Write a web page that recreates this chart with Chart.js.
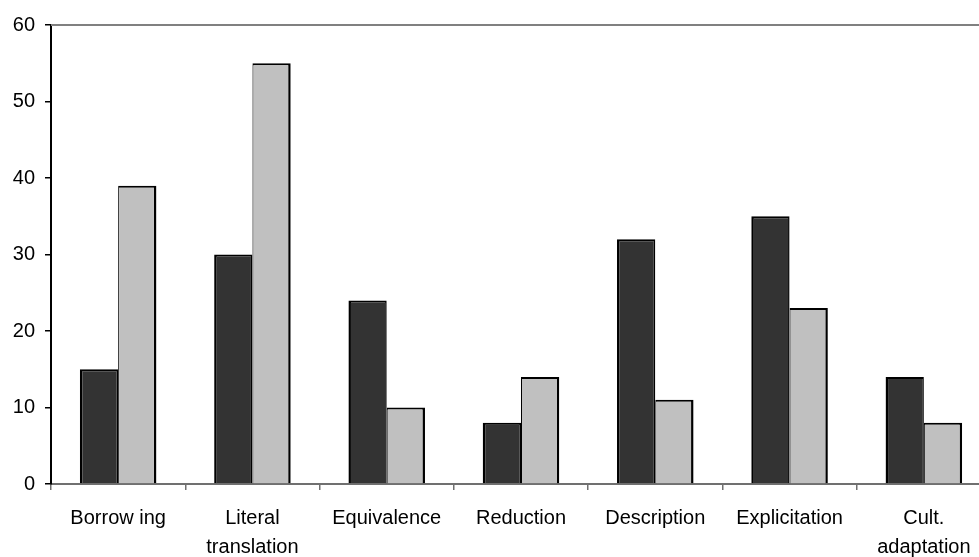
<!DOCTYPE html>
<html>
<head>
<meta charset="utf-8">
<script src="https://cdn.jsdelivr.net/npm/chart.js@4"></script>
<style>
  html, body { margin: 0; padding: 0; background: #fff; overflow: hidden; }
  #wrap { width: 1000px; height: 557px; }
</style>
</head>
<body>
<div id="wrap"><canvas id="chart" width="1000" height="557"></canvas></div>
<script>
const categories = [
  "Borrow ing",
  ["Literal", "translation"],
  "Equivalence",
  "Reduction",
  "Description",
  "Explicitation",
  ["Cult.", "adaptation"]
];
const seriesDark = [15, 30, 24, 8, 32, 35, 14];
const seriesLight = [39, 55, 10, 14, 11, 23, 8];
const yTicks = [0, 10, 20, 30, 40, 50, 60];

// gray line along the top of the plot area
const topLine = {
  id: "topLine",
  afterDraw(chart) {
    const { ctx, chartArea } = chart;
    ctx.save();
    ctx.strokeStyle = "#808080";
    ctx.lineWidth = 2;
    ctx.beginPath();
    ctx.moveTo(chartArea.left, chartArea.top);
    ctx.lineTo(chartArea.right, chartArea.top);
    ctx.stroke();
    ctx.restore();
  }
};

const ctx = document.getElementById("chart").getContext("2d");
new Chart(ctx, {
  type: "bar",
  data: {
    labels: categories,
    datasets: [
      {
        data: seriesDark,
        backgroundColor: "#333333",
        borderColor: "#000000",
        borderWidth: { top: 2, left: 2.5, right: 1.5, bottom: 0 },
        borderSkipped: false
      },
      {
        data: seriesLight,
        backgroundColor: "#c0c0c0",
        borderColor: "#000000",
        borderWidth: { top: 2, left: 1, right: 2.5, bottom: 0 },
        borderSkipped: false
      }
    ]
  },
  options: {
    responsive: false,
    animation: false,
    layout: { padding: { top: 25, right: 9, left: 0, bottom: 0 } },
    plugins: { legend: { display: false }, tooltip: { enabled: false } },
    datasets: { bar: { barPercentage: 1, categoryPercentage: 0.57 } },
    scales: {
      x: {
        grid: { display: true, drawOnChartArea: false, offset: true, color: "#707070", tickLength: 6, lineWidth: 1.5 },
        border: { color: "#707070", width: 2 },
        ticks: {
          color: "#000",
          font: { family: "'Liberation Sans', Arial, sans-serif", size: 20, lineHeight: 1.45 },
          maxRotation: 0,
          autoSkip: false,
          padding: 14
        },
        afterFit(scale) { scale.height = 73; }
      },
      y: {
        min: 0,
        max: 60,
        afterBuildTicks(scale) { scale.ticks = yTicks.map(v => ({ value: v })); },
        grid: { display: true, drawOnChartArea: false, color: "#000", tickLength: 6, lineWidth: 1.5 },
        border: { color: "#000", width: 2 },
        ticks: {
          color: "#000",
          font: { family: "'Liberation Sans', Arial, sans-serif", size: 20 },
          padding: 10
        },
        afterFit(scale) { scale.width = 51; }
      }
    }
  },
  plugins: [topLine]
});
</script>
</body>
</html>
